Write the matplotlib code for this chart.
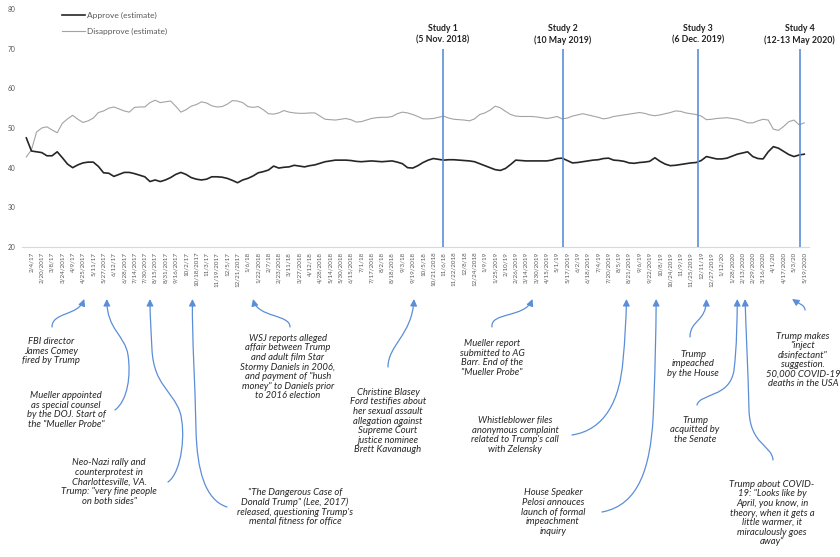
import matplotlib
matplotlib.use('Agg')
import matplotlib.pyplot as plt
import matplotlib.dates as mdates
from matplotlib.path import Path
from matplotlib.patches import FancyArrowPatch
from matplotlib.lines import Line2D
from datetime import datetime
import pandas as pd

plt.rcParams['font.family'] = ['Lato', 'DejaVu Sans']

# ---------------- data ----------------
series_start = '2017-01-27'
series_step = '8D'

approve = [
    47.5, 44.2, 44.0, 43.8, 43.0, 43.0, 44.0, 42.5, 40.9, 40.0,
    40.7, 41.2, 41.4, 41.4, 40.3, 38.7, 38.6, 37.8, 38.3, 38.8,
    38.8, 38.5, 38.1, 37.7, 36.5, 36.9, 36.5, 36.9, 37.5, 38.3,
    38.8, 38.3, 37.5, 37.1, 36.9, 37.1, 37.7, 37.7, 37.6, 37.3,
    36.8, 36.2, 36.9, 37.3, 37.9, 38.7, 39.0, 39.4, 40.4, 39.9,
    40.1, 40.2, 40.6, 40.4, 40.2, 40.5, 40.7, 41.1, 41.5, 41.7,
    41.9, 41.9, 41.9, 41.8, 41.6, 41.5, 41.6, 41.7, 41.6, 41.5,
    41.6, 41.7, 41.4, 41.0, 40.0, 39.9, 40.5, 41.3, 41.9, 42.3,
    42.1, 41.9, 42.0, 42.0, 41.9, 41.8, 41.7, 41.5, 41.0, 40.5,
    40.0, 39.5, 39.3, 39.8, 40.8, 41.9, 41.8, 41.7, 41.7, 41.7,
    41.7, 41.7, 41.9, 42.3, 42.4, 41.8, 41.2, 41.3, 41.5, 41.7,
    41.9, 42.0, 42.3, 42.4, 41.9, 41.8, 41.6, 41.2, 41.1, 41.3,
    41.4, 41.6, 42.5, 41.6, 40.9, 40.5, 40.6, 40.8, 41.0, 41.2,
    41.3, 41.8, 42.8, 42.5, 42.2, 42.2, 42.4, 42.9, 43.4, 43.7,
    44.0, 42.8, 42.3, 42.2, 44.0, 45.3, 44.9, 44.1, 43.3, 42.8,
    43.2, 43.4,
]
disapprove = [
    42.7, 44.5, 49.0, 50.0, 50.3, 49.5, 48.8, 51.2, 52.3, 53.2,
    52.2, 51.4, 51.8, 52.5, 53.9, 54.3, 55.0, 55.3, 54.8, 54.3,
    54.0, 55.2, 55.3, 55.3, 56.4, 57.0, 56.4, 56.6, 56.8, 55.5,
    54.0, 54.6, 55.5, 55.9, 56.6, 56.3, 55.6, 55.3, 55.4, 56.0,
    56.9, 56.8, 56.4, 55.4, 55.2, 55.4, 54.6, 53.6, 53.5, 53.8,
    54.4, 54.0, 53.8, 53.7, 53.7, 53.8, 53.8, 53.0, 52.2, 52.1,
    52.0, 52.2, 52.4, 52.1, 51.5, 51.6, 52.0, 52.4, 52.6, 52.7,
    52.7, 52.9, 53.6, 54.0, 53.8, 53.4, 52.9, 52.3, 52.3, 52.4,
    52.7, 53.0, 52.5, 52.2, 52.1, 52.0, 51.8, 52.3, 53.4, 53.8,
    54.5, 55.5, 55.1, 54.2, 53.4, 53.0, 52.9, 52.9, 52.9, 52.8,
    52.6, 52.4, 52.6, 52.9, 52.3, 52.5, 53.0, 53.3, 53.6, 53.3,
    53.0, 52.7, 52.3, 52.5, 52.9, 53.1, 53.3, 53.5, 53.7, 53.9,
    53.7, 53.3, 53.1, 53.3, 53.6, 53.9, 54.3, 54.2, 53.8, 53.6,
    53.4, 53.0, 52.1, 52.2, 52.4, 52.5, 52.6, 52.4, 52.2, 51.8,
    51.3, 51.3, 51.8, 52.2, 52.0, 49.7, 49.4, 50.4, 51.6, 52.0,
    50.8, 51.3,
]

tick_labels = ['2/4/17', '2/20/2017', '3/8/17', '3/24/2017', '4/9/17', '4/25/2017', '5/11/17', '5/27/2017',
               '6/12/17', '6/28/2017', '7/14/2017', '7/30/2017', '8/15/2017', '8/31/2017', '9/16/2017',
               '10/2/17', '10/18/2017', '11/3/17', '11/19/2017', '12/5/17', '12/21/2017', '1/6/18',
               '1/22/2018', '2/7/18', '2/23/2018', '3/11/18', '3/27/2018', '4/12/18', '4/28/2018',
               '5/14/2018', '5/30/2018', '6/15/2018', '7/1/18', '7/17/2018', '8/2/18', '8/18/2018',
               '9/3/18', '9/19/2018', '10/5/18', '10/21/2018', '11/6/18', '11/22/2018', '12/8/18',
               '12/24/2018', '1/9/19', '1/25/2019', '2/10/19', '2/26/2019', '3/14/2019', '3/30/2019',
               '4/15/2019', '5/1/19', '5/17/2019', '6/2/19', '6/18/2019', '7/4/19', '7/20/2019', '8/5/19',
               '8/21/2019', '9/6/19', '9/22/2019', '10/8/19', '10/24/2019', '11/9/19', '11/25/2019',
               '12/11/19', '12/27/2019', '1/12/20', '1/28/2020', '2/13/2020', '2/29/2020', '3/16/2020',
               '4/1/20', '4/17/2020', '5/3/20', '5/19/2020']
y_ticks = [20, 30, 40, 50, 60, 70, 80]

study_dates = ['2018-11-05', '2019-05-10', '2019-12-06', '2020-05-12']
study_labels = ['Study 1\n(5 Nov. 2018)', 'Study 2\n(10 May 2019)',
                'Study 3\n(6 Dec. 2019)', 'Study 4\n(12-13 May 2020)']

event_dates = ['2017-04-27', '2017-06-01', '2017-08-07', '2017-10-12', '2018-01-14',
               '2018-09-21', '2019-03-24', '2019-08-17', '2019-10-02', '2019-12-19',
               '2020-02-05', '2020-02-17', '2020-04-30']
event_texts = [
    'FBI director\nJames Comey\nfired by Trump',
    'Mueller appointed\nas special counsel\nby the DOJ. Start of\nthe "Mueller Probe"',
    'Neo-Nazi rally and\ncounterprotest in\nCharlottesville, VA.\nTrump: "very fine people\non both sides"',
    '"The Dangerous Case of\nDonald Trump" (Lee, 2017)\nreleased, questioning Trump\'s\nmental fitness for office',
    'WSJ reports alleged\naffair between Trump\nand adult film Star\nStormy Daniels in 2006,\nand payment of "hush\nmoney" to Daniels prior\nto 2016 election',
    'Christine Blasey\nFord testifies about\nher sexual assault\nallegation against\nSupreme Court\njustice nominee\nBrett Kavanaugh',
    'Mueller report\nsubmitted to AG\nBarr. End of the\n"Mueller Probe"',
    'Whistleblower files\nanonymous complaint\nrelated to Trump\'s call\nwith Zelensky',
    'House Speaker\nPelosi annouces\nlaunch of formal\nimpeachment\ninquiry',
    'Trump\nimpeached\nby the House',
    'Trump\nacquitted by\nthe Senate',
    'Trump about COVID-\n19: "Looks like by\nApril, you know, in\ntheory, when it gets a\nlittle warmer, it\nmiraculously goes\naway"',
    'Trump makes\n"inject\ndisinfectant"\nsuggestion.\n50,000 COVID-19\ndeaths in the USA',
]

# ---------------- layout (pixel-based) ----------------
W, H = 840, 557
text_centers = [(51, 351), (66, 410), (109, 482), (295, 507), (288, 367), (388, 421), (492, 358),
                (515, 435), (553, 512), (693, 364), (695, 430), (772, 513), (803, 360)]
curve_points = [
    [(52, 327), (52, 312), (78, 316)],
    [(115, 410), (128, 400), (131, 375), (128, 355), (125, 335), (107, 330)],
    [(168, 482), (182, 472), (186, 432), (180, 412), (172, 390), (154, 385), (152, 350), (151, 330), (150, 315)],
    [(227, 507), (205, 500), (197, 470), (196, 430), (195, 380), (192, 340)],
    [(290, 327), (290, 314), (258, 318)],
    [(388, 367), (388, 345), (412, 335)],
    [(492, 327), (490, 312), (525, 318)],
    [(572, 435), (605, 430), (620, 400), (623, 360), (625, 340), (626, 320)],
    [(602, 512), (640, 505), (650, 465), (653, 420), (655, 380), (656, 330)],
    [(690, 337), (690, 320), (706, 322)],
    [(697, 405), (700, 393), (730, 398), (734, 370), (737, 345), (737, 320)],
    [(773, 460), (772, 445), (750, 445), (749, 410), (748, 370), (746, 330)],
    [(805, 310), (805, 305), (798, 303)],
]
tip_y = 299

approve_color = '#262626'
disapprove_color = '#a3a3a3'
blue = '#5b8ed8'
label_color = '#595959'
note_color = '#262626'

# ---------------- figure ----------------
fig = plt.figure(figsize=(W / 100, H / 100), dpi=100)
ax = fig.add_axes([21.8 / W, (H - 247) / H, 787 / W, 238 / H])

dates = pd.date_range(series_start, periods=len(approve), freq=series_step)
ax.plot(dates, disapprove, color=disapprove_color, lw=0.8, zorder=2)
ax.plot(dates, approve, color=approve_color, lw=1.2, zorder=3)

def parse(lbl):
    fmt = '%m/%d/%y' if len(lbl.split('/')[-1]) == 2 else '%m/%d/%Y'
    return datetime.strptime(lbl, fmt)

tick_dates = [parse(t) for t in tick_labels]
ax.set_xticks(tick_dates)
ax.set_xticklabels(tick_labels, rotation=90, fontsize=4.5, color=label_color)
ax.set_yticks(y_ticks)
ax.set_yticklabels([str(v) for v in y_ticks], fontsize=4.8, color=label_color)
ax.tick_params(axis='x', length=0, pad=3.5)
ax.tick_params(axis='y', length=0, pad=4.5)
ax.set_ylim(20, 80)
ax.set_xlim(datetime(2017, 1, 20), datetime(2020, 5, 26))
for s in ['top', 'right', 'left']:
    ax.spines[s].set_visible(False)
ax.spines['bottom'].set_color('#d9d9d9')
ax.spines['bottom'].set_linewidth(0.8)
ax.patch.set_alpha(0)

sd = pd.to_datetime(study_dates)
ax.vlines(sd, 20, 70, color=blue, lw=1.2, zorder=4)
for d, lbl in zip(sd, study_labels):
    ax.text(d, 73.6, lbl, ha='center', va='center', fontsize=6.3, fontweight='bold',
            color='#222222', linespacing=1.3, clip_on=False)

# ---------------- overlay in pixel coordinates ----------------
ov = fig.add_axes([0, 0, 1, 1])
ov.set_xlim(0, W)
ov.set_ylim(H, 0)
ov.axis('off')
ov.patch.set_alpha(0)

# legend
leg = [('Approve (estimate)', approve_color, 1.2, 15), ('Disapprove (estimate)', disapprove_color, 0.8, 31)]
for lbl, c, lw, y in leg:
    ov.add_line(Line2D([62, 85], [y, y], color=c, lw=lw))
    ov.text(87, y, lbl, fontsize=6, color=label_color, va='center', ha='left')

fig.canvas.draw()
for d, txt, (cx, cy), pts in zip(event_dates, event_texts, text_centers, curve_points):
    disp = ax.transData.transform((mdates.date2num(pd.Timestamp(d)), 20))
    tip_x = disp[0]
    verts = list(pts) + [(tip_x, tip_y)]
    codes = [Path.MOVETO] + [Path.CURVE4] * (len(verts) - 1)
    arr = FancyArrowPatch(path=Path(verts, codes), arrowstyle='-|>,head_length=4,head_width=2',
                          color=blue, lw=0.9, shrinkA=0, shrinkB=0, mutation_scale=1,
                          transform=ov.transData)
    ov.add_patch(arr)
    ov.text(cx, cy, txt, ha='center', va='center', fontsize=6.8, style='italic',
            color=note_color, linespacing=1.08)

fig.savefig('out.png', dpi=100)
